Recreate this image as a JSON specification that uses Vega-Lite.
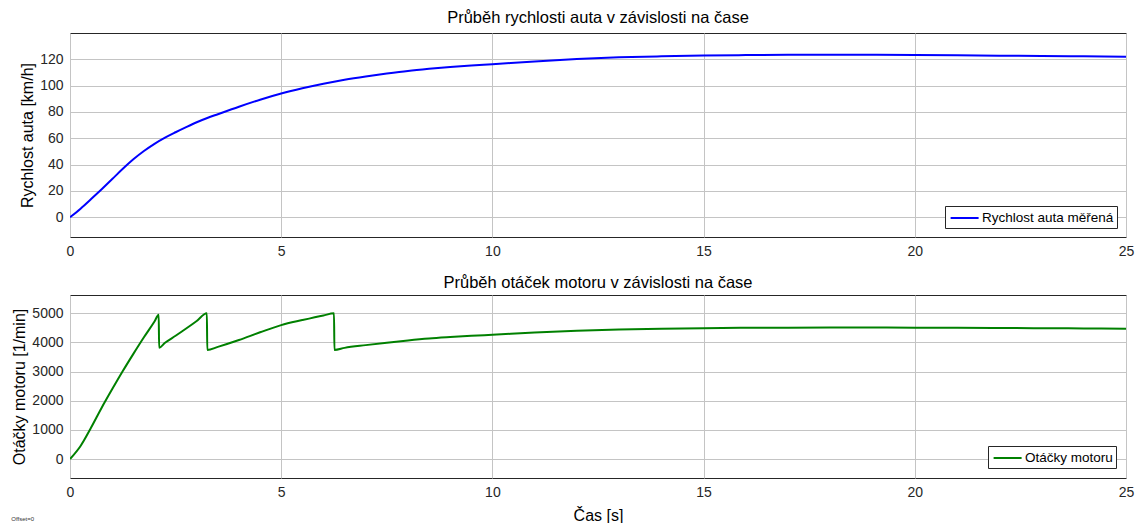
{
  "$schema": "https://vega.github.io/schema/vega-lite/v6.json",
  "background": "white",
  "padding": {"left": 11, "top": 9, "right": 5, "bottom": 0},
  "title": {"text": "Offset=0", "orient": "bottom", "anchor": "start", "fontSize": 6, "offset": -8, "color": "#333", "frame": "bounds"},
  "config": {
    "font": "Liberation Sans",
    "view": {"stroke": "#262626", "strokeWidth": 1},
    "axis": {"domain": false, "ticks": false, "labelFontSize": 14, "labelColor": "#262626", "titleFontSize": 16, "titleFontWeight": "normal", "titleColor": "#000", "gridColor": "#c4c4c4", "gridWidth": 1, "labelPadding": 7, "titlePadding": 4, "labelFlush": false},
    "title": {"fontSize": 16.5, "fontWeight": "normal", "color": "#000", "offset": 8},
    "legend": {"strokeColor": "#262626", "fillColor": "white", "padding": 3, "symbolType": "M-0.8,0H2.7", "symbolSize": 256, "symbolStrokeWidth": 2, "labelFontSize": 13.5, "labelColor": "#000", "labelOffset": 16, "orient": "bottom-right", "offset": 9, "title": null}
  },
  "datasets": {
    "speed": [{"t":0,"v":0},{"t":0.25,"v":6.5},{"t":0.5,"v":13.8},{"t":0.75,"v":21.3},{"t":1,"v":29},{"t":1.25,"v":36.8},{"t":1.5,"v":44},{"t":1.75,"v":50.3},{"t":2,"v":55.8},{"t":2.25,"v":60.5},{"t":2.5,"v":64.6},{"t":2.75,"v":68.5},{"t":3,"v":72.2},{"t":3.25,"v":75.4},{"t":3.5,"v":78.3},{"t":4,"v":84},{"t":4.5,"v":89.3},{"t":5,"v":94},{"t":5.5,"v":98},{"t":6,"v":101.5},{"t":6.5,"v":104.5},{"t":7,"v":107},{"t":7.5,"v":109.2},{"t":8,"v":111.2},{"t":8.5,"v":112.8},{"t":9,"v":114.2},{"t":9.5,"v":115.3},{"t":10,"v":116.3},{"t":11,"v":118.4},{"t":12,"v":120.2},{"t":13,"v":121.5},{"t":14,"v":122.3},{"t":15,"v":122.9},{"t":16,"v":123.2},{"t":17,"v":123.4},{"t":18,"v":123.4},{"t":19,"v":123.4},{"t":20,"v":123.3},{"t":21,"v":123.1},{"t":22,"v":122.8},{"t":23,"v":122.6},{"t":24,"v":122.3},{"t":25,"v":122}],
    "rpm": [{"t":0,"r":0},{"t":0.25,"r":450},{"t":0.5,"r":1080},{"t":0.75,"r":1760},{"t":1,"r":2400},{"t":1.25,"r":3020},{"t":1.5,"r":3610},{"t":1.75,"r":4180},{"t":2,"r":4720},{"t":2.1,"r":4950},{"t":2.11,"r":3820},{"t":2.25,"r":3990},{"t":2.5,"r":4230},{"t":2.75,"r":4480},{"t":3,"r":4740},{"t":3.24,"r":5005},{"t":3.25,"r":3745},{"t":3.5,"r":3850},{"t":4,"r":4085},{"t":4.5,"r":4350},{"t":5,"r":4597},{"t":5.5,"r":4770},{"t":6,"r":4930},{"t":6.25,"r":5000},{"t":6.26,"r":3745},{"t":6.5,"r":3815},{"t":7,"r":3910},{"t":7.5,"r":3995},{"t":8,"r":4070},{"t":8.5,"r":4135},{"t":9,"r":4185},{"t":9.5,"r":4230},{"t":10,"r":4265},{"t":11,"r":4340},{"t":12,"r":4400},{"t":13,"r":4445},{"t":14,"r":4475},{"t":15,"r":4493},{"t":16,"r":4503},{"t":17,"r":4510},{"t":18,"r":4512},{"t":19,"r":4512},{"t":20,"r":4510},{"t":21,"r":4505},{"t":22,"r":4498},{"t":23,"r":4490},{"t":24,"r":4482},{"t":25,"r":4475}]
  },
  "spacing": 15,
  "resolve": {"scale": {"color": "independent"}, "legend": {"color": "independent"}},
  "vconcat": [
    {
      "width": 1056, "height": 204,
      "title": {"text": "Průběh rychlosti auta v závislosti na čase", "offset": 7},
      "data": {"name": "speed"},
      "mark": {"type": "line", "strokeWidth": 2, "clip": true, "interpolate": "monotone"},
      "encoding": {
        "x": {"field": "t", "type": "quantitative", "scale": {"domain": [0, 25], "nice": false}, "axis": {"values": [0, 5, 10, 15, 20, 25], "title": null}},
        "y": {"field": "v", "type": "quantitative", "scale": {"domain": [-15, 140], "nice": false, "zero": false}, "axis": {"values": [0, 20, 40, 60, 80, 100, 120], "format": "d", "title": "Rychlost auta [km/h]"}},
        "color": {"datum": "Rychlost auta měřená", "type": "nominal", "scale": {"range": ["#0000ff"]}, "legend": {"title": null}}
      }
    },
    {
      "width": 1056, "height": 183,
      "title": {"text": "Průběh otáček motoru v závislosti na čase", "offset": 4},
      "data": {"name": "rpm"},
      "mark": {"type": "line", "strokeWidth": 2, "clip": true, "interpolate": "monotone"},
      "encoding": {
        "x": {"field": "t", "type": "quantitative", "scale": {"domain": [0, 25], "nice": false}, "axis": {"values": [0, 5, 10, 15, 20, 25], "title": "Čas [s]", "titlePadding": 8}},
        "y": {"field": "r", "type": "quantitative", "scale": {"domain": [-650, 5630], "nice": false, "zero": false}, "axis": {"values": [0, 1000, 2000, 3000, 4000, 5000], "format": "d", "title": "Otáčky motoru [1/min]"}},
        "color": {"datum": "Otáčky motoru", "type": "nominal", "scale": {"range": ["#008000"]}, "legend": {"title": null, "offset": 10}}
      }
    }
  ]
}
